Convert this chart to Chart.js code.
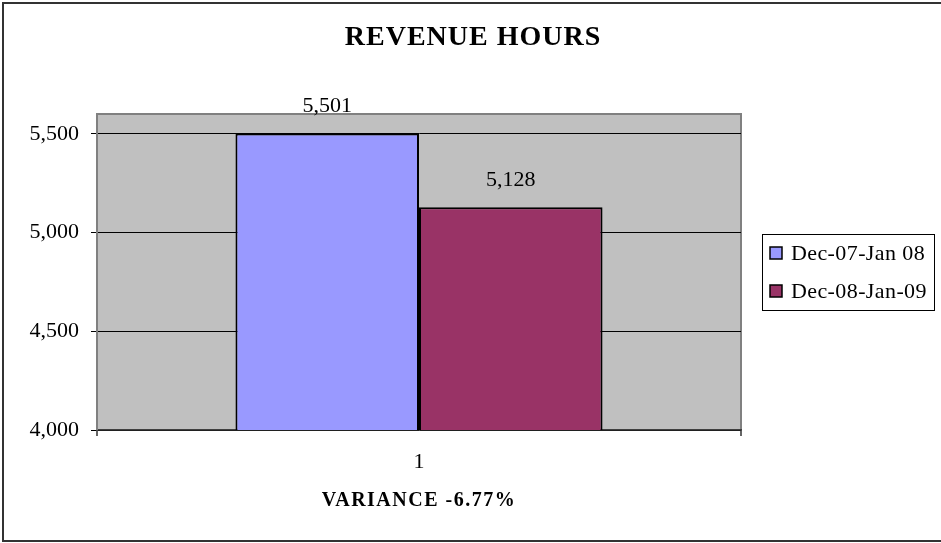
<!DOCTYPE html>
<html>
<head>
<meta charset="utf-8">
<script src="https://cdn.jsdelivr.net/npm/chart.js@4"></script>
<style>
  html, body { margin: 0; padding: 0; background: #fff; overflow: hidden; }
  canvas { display: block; }
</style>
</head>
<body>
<canvas id="chart" width="941" height="543"></canvas>
<script>
const categories = ["1"];
const seriesLabels = ["Dec-07-Jan 08", "Dec-08-Jan-09"];
const seriesValues = [[5501], [5128]];
const yTicks = [4000, 4500, 5000, 5500];
const yMin = 4000;
const yMax = 5600;
const chartTitle = "REVENUE HOURS";
const varianceText = "VARIANCE -6.77%";

const colors = ["#9999ff", "#993366"];
const serif = "'Liberation Serif', 'Times New Roman', serif";
const fmt = (value) => value.toLocaleString("en-US");

Chart.defaults.font.family = serif;
Chart.defaults.color = "#000";

// frame, plot fill and plot border like the old spreadsheet chart
const plotBackground = {
  id: "plotBackground",
  beforeDraw(chart) {
    const { ctx, chartArea: a } = chart;
    ctx.save();
    ctx.strokeStyle = "#333";
    ctx.lineWidth = 2;
    ctx.beginPath();
    ctx.moveTo(960, 3);
    ctx.lineTo(3, 3);
    ctx.lineTo(3, 541);
    ctx.lineTo(960, 541);
    ctx.stroke();

    ctx.fillStyle = "#c0c0c0";
    ctx.fillRect(a.left, a.top, a.right - a.left, a.bottom - a.top);
    ctx.strokeStyle = "#808080";
    ctx.beginPath();
    ctx.moveTo(a.left, a.top);
    ctx.lineTo(a.right, a.top);
    ctx.lineTo(a.right, a.bottom);
    ctx.stroke();
    ctx.restore();
  },
  afterDraw(chart) {
    const { ctx, chartArea: a } = chart;
    ctx.save();
    ctx.strokeStyle = "#333";
    ctx.lineWidth = 1.5;
    ctx.beginPath();
    [a.left, a.right].forEach((x) => {
      ctx.moveTo(x, a.bottom);
      ctx.lineTo(x, a.bottom + 6);
    });
    ctx.stroke();
    ctx.restore();
  }
};

const textBits = {
  id: "textBits",
  afterDraw(chart) {
    const { ctx, chartArea: a } = chart;
    ctx.save();
    ctx.fillStyle = "#000";
    ctx.textAlign = "center";
    ctx.textBaseline = "middle";
    ctx.font = `bold 28px ${serif}`;
    ctx.letterSpacing = "1px";
    ctx.fillText(chartTitle, 473, 38);
    ctx.font = `bold 20px ${serif}`;
    ctx.letterSpacing = "1.5px";
    ctx.fillText(varianceText, (a.left + a.right) / 2, 501);
    ctx.restore();
  }
};

const valueLabels = {
  id: "valueLabels",
  afterDatasetsDraw(chart) {
    const { ctx } = chart;
    ctx.save();
    ctx.font = `22px ${serif}`;
    ctx.fillStyle = "#000";
    ctx.textAlign = "center";
    ctx.textBaseline = "middle";
    chart.data.datasets.forEach((dataset, i) => {
      chart.getDatasetMeta(i).data.forEach((bar, j) => {
        ctx.fillText(fmt(dataset.data[j]), bar.x, bar.y - 27);
      });
    });
    ctx.restore();
  }
};

const boxLegend = {
  id: "boxLegend",
  afterDraw(chart) {
    const { ctx, chartArea: a } = chart;
    const left = a.right + 21;
    const width = 172;
    const height = 76;
    const top = (a.top + a.bottom) / 2 - height / 2;
    ctx.save();
    ctx.strokeStyle = "#000";
    ctx.lineWidth = 1;
    ctx.strokeRect(left + 0.5, top + 0.5, width, height);
    ctx.font = `22px ${serif}`;
    ctx.letterSpacing = "0.4px";
    ctx.textBaseline = "middle";
    ctx.textAlign = "left";
    chart.data.datasets.forEach((dataset, i) => {
      const cy = top + 19 + i * 38;
      ctx.fillStyle = dataset.backgroundColor;
      ctx.fillRect(left + 8, cy - 6, 12, 12);
      ctx.strokeStyle = "#000";
      ctx.lineWidth = 1.5;
      ctx.strokeRect(left + 8, cy - 6, 12, 12);
      ctx.fillStyle = "#000";
      ctx.fillText(dataset.label, left + 29, cy + 1);
    });
    ctx.restore();
  }
};

new Chart(document.querySelector("#chart"), {
  type: "bar",
  data: {
    labels: categories,
    datasets: seriesLabels.map((label, i) => ({
      label,
      data: seriesValues[i],
      backgroundColor: colors[i],
      borderColor: "#000",
      borderWidth: 2,
      borderSkipped: false,
      categoryPercentage: 0.57,
      barPercentage: 1
    }))
  },
  options: {
    responsive: false,
    animation: false,
    layout: { padding: { left: 0, top: 114, right: 200, bottom: 0 } },
    plugins: {
      legend: { display: false },
      tooltip: { enabled: false },
      title: { display: false }
    },
    scales: {
      x: {
        offset: true,
        grid: { display: false },
        border: { color: "#404040", width: 1.5 },
        ticks: { font: { size: 22 }, color: "#000", padding: 11 },
        afterFit: (scale) => { scale.height = 113; }
      },
      y: {
        min: yMin,
        max: yMax,
        afterBuildTicks: (scale) => { scale.ticks = yTicks.map((value) => ({ value })); },
        grid: { color: "#000", lineWidth: 1, tickLength: 6 },
        border: { color: "#808080", width: 2 },
        ticks: { font: { size: 22 }, color: "#000", padding: 12, callback: (value) => fmt(value) },
        afterFit: (scale) => { scale.width = 97; }
      }
    }
  },
  plugins: [plotBackground, valueLabels, boxLegend, textBits]
});
</script>
</body>
</html>
